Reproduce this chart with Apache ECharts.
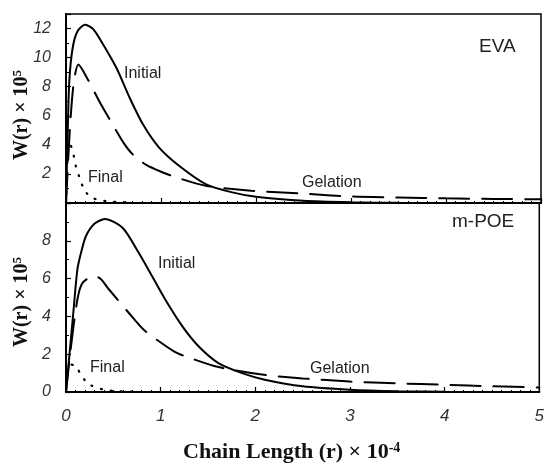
<!DOCTYPE html>
<html>
<head>
<meta charset="utf-8">
<script src="https://cdn.jsdelivr.net/npm/echarts@6/dist/echarts.min.js"></script>
<style>
    html, body { margin: 0; background: #fff; }
    #main { width: 547px; height: 467px; }
</style>
</head>
<body>
<div id="main"></div>
<script>
// chain length (x 1e-4) and W(r) (x 1e5)
const evaInitial = [[0, 0], [0.018, 4.9], [0.035, 8.4], [0.07, 10.66], [0.12, 11.8], [0.2, 12.26], [0.28, 12.0], [0.35, 11.35], [0.53, 9.3], [0.67, 7.24], [0.81, 5.41], [0.98, 3.81], [1.19, 2.56], [1.47, 1.3], [1.75, 0.73], [2.0, 0.43], [2.5, 0.15], [3.0, 0.05], [3.5, 0.01], [4, 0], [5, 0]];
const evaGelation = [[0, 0], [0.04, 5.0], [0.08, 8.2], [0.13, 9.52], [0.23, 8.5], [0.35, 7.0], [0.5, 5.3], [0.61, 4.1], [0.7, 3.36], [0.85, 2.6], [1.02, 2.1], [1.16, 1.76], [1.47, 1.19], [1.95, 0.84], [2.5, 0.64], [3, 0.45], [3.5, 0.38], [4, 0.32], [4.5, 0.28], [5, 0.25]];
const evaFinal = [[0, 0], [0.02, 3.5], [0.045, 4.0], [0.07, 3.6], [0.084, 3.17], [0.105, 2.49], [0.14, 1.8], [0.175, 1.16], [0.22, 0.66], [0.29, 0.32], [0.39, 0.16], [0.5, 0.08], [0.7, 0.03]];

const poeInitial = [[0, 0], [0.035, 1.89], [0.077, 4.18], [0.12, 6.47], [0.158, 7.35], [0.21, 8.24], [0.3, 8.9], [0.41, 9.15], [0.6, 8.68], [0.77, 7.35], [0.91, 6.12], [1.05, 4.88], [1.23, 3.47], [1.4, 2.42], [1.61, 1.53], [1.86, 1.0], [2.1, 0.65], [2.5, 0.3], [3, 0.12], [3.5, 0.04], [4, 0.01], [5, 0]];
const poeGelation = [[0, 0], [0.05, 2.3], [0.12, 4.88], [0.175, 5.77], [0.3, 6.15], [0.37, 5.97], [0.45, 5.45], [0.74, 3.74], [0.84, 3.21], [1.14, 2.15], [1.26, 1.89], [1.61, 1.32], [2.07, 0.92], [2.5, 0.72], [3, 0.55], [3.5, 0.46], [4, 0.38], [4.5, 0.3], [5, 0.24]];
const poeFinal = [[0, 0], [0.01, 1.0], [0.04, 1.45], [0.105, 1.39], [0.147, 1.0], [0.2, 0.62], [0.27, 0.34], [0.37, 0.16], [0.5, 0.06], [0.7, 0.02]];

const xTicks = [0, 1, 2, 3, 4, 5];
const evaYTicks = [2, 4, 6, 8, 10, 12];
const poeYTicks = [0, 2, 4, 6, 8];

const myChart = echarts.init(document.getElementById('main'), null, {renderer: 'canvas'});

const tickFont = {
    fontFamily: 'Liberation Sans, Arial, sans-serif',
    fontStyle: 'italic',
    color: '#333'
};
const noteFont = 'Liberation Sans, Arial, sans-serif';
const titleFont = 'Liberation Serif, Times New Roman, serif';

const xAxisBase = {
    type: 'value',
    min: 0,
    max: 5,
    interval: 1,
    axisLine: {onZero: false, lineStyle: {color: '#000', width: 2}},
    axisTick: {inside: true, length: 5, lineStyle: {color: '#000', width: 1.2}},
    minorTick: {show: true, splitNumber: 10, length: 2, lineStyle: {color: '#000', width: 1}},
    splitLine: {show: false}
};

const yAxisBase = {
    type: 'value',
    min: 0,
    interval: 2,
    axisLine: {onZero: false, lineStyle: {color: '#000', width: 2}},
    axisTick: {inside: true, length: 5, lineStyle: {color: '#000', width: 1.2}},
    minorTick: {show: true, splitNumber: 2, length: 3, lineStyle: {color: '#000', width: 1}},
    splitLine: {show: false}
};

const lineSeries = (data, idx, type, width) => ({
    type: 'line',
    xAxisIndex: idx,
    yAxisIndex: idx,
    data: data,
    smooth: 0.25,
    showSymbol: false,
    silent: true,
    lineStyle: {color: '#000', width: width, type: type, cap: 'round'}
});

const note = (text, left, y, size) => ({
    type: 'text',
    left: left,
    top: y - size / 2,
    style: {text: text, fill: '#222', font: size + 'px ' + noteFont}
});

const yTitle = (cy) => ({
    type: 'text',
    x: 22,
    y: cy,
    rotation: Math.PI / 2,
    style: {
        text: 'W(r) × 10{sup|5}',
        fill: '#111',
        font: 'bold 20px ' + titleFont,
        align: 'center',
        verticalAlign: 'middle',
        rich: {sup: {fontSize: 13, fontWeight: 'bold', fontFamily: titleFont, verticalAlign: 'top', padding: [0, 0, 8, 0]}}
    }
});

const option = {
    animation: false,
    backgroundColor: '#fff',
    grid: [
        {left: 66, top: 14, width: 475, height: 189, show: true, borderColor: '#000', borderWidth: 1.5},
        {left: 66, top: 203, width: 475, height: 189, show: true, borderColor: '#000', borderWidth: 1.5}
    ],
    xAxis: [
        Object.assign({}, xAxisBase, {gridIndex: 0, axisLabel: {show: false}}),
        Object.assign({}, xAxisBase, {
            gridIndex: 1,
            axisLabel: Object.assign({}, tickFont, {
                fontSize: 17,
                margin: 16,
                formatter: v => xTicks.includes(v) ? String(v) : ''
            })
        })
    ],
    yAxis: [
        Object.assign({}, yAxisBase, {
            gridIndex: 0,
            max: 13,
            axisLabel: Object.assign({}, tickFont, {
                fontSize: 16,
                margin: 15,
                formatter: v => evaYTicks.includes(v) ? String(v) : ''
            })
        }),
        Object.assign({}, yAxisBase, {
            gridIndex: 1,
            max: 10,
            axisLabel: Object.assign({}, tickFont, {
                fontSize: 16,
                margin: 15,
                formatter: v => poeYTicks.includes(v) ? String(v) : ''
            })
        })
    ],
    series: [
        lineSeries(evaInitial, 0, 'solid', 2),
        lineSeries(evaGelation, 0, [30, 13], 2),
        lineSeries(evaFinal, 0, [1, 9], 2.2),
        lineSeries(poeInitial, 1, 'solid', 2),
        lineSeries(poeGelation, 1, [30, 13], 2),
        lineSeries(poeFinal, 1, [1, 9], 2.2)
    ],
    graphic: [
        note('EVA', 479, 47, 19),
        note('Initial', 124, 74, 16),
        note('Final', 88, 178, 16),
        note('Gelation', 302, 183, 16),
        note('m-POE', 452, 222, 19),
        note('Initial', 158, 264, 16),
        note('Final', 90, 368, 16),
        note('Gelation', 310, 369, 16),
        yTitle(115),
        yTitle(302),
        {
            type: 'text',
            left: 183,
            top: 441,
            style: {
                text: 'Chain Length (r) × 10{sup|-4}',
                fill: '#111',
                font: 'bold 22px ' + titleFont,
                rich: {sup: {fontSize: 14, fontWeight: 'bold', fontFamily: titleFont, verticalAlign: 'top', padding: [0, 0, 8, 0]}}
            }
        }
    ]
};

myChart.setOption(option);
</script>
</body>
</html>
